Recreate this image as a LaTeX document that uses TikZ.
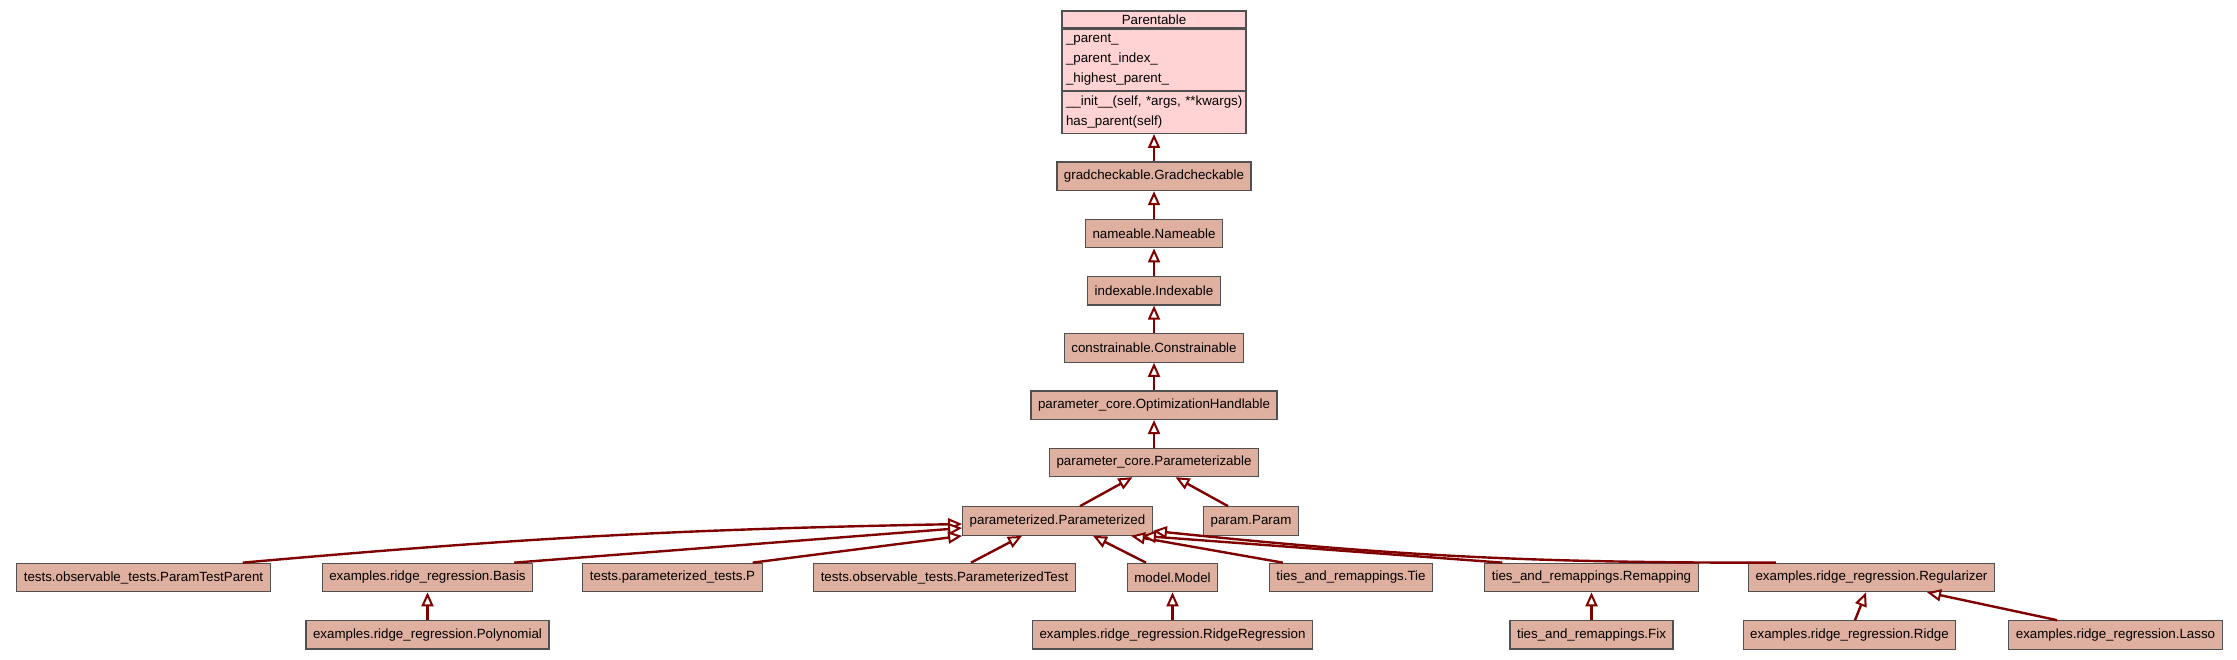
\documentclass[tikz,border=0pt]{standalone}
\usepackage{fontspec}
\setmainfont{Liberation Sans}
\usetikzlibrary{positioning, arrows.meta}

\definecolor{clsfill}{HTML}{DFB0A0}
\definecolor{rootfill}{HTML}{FFD3D3}
\definecolor{clsline}{HTML}{505050}
\definecolor{edgered}{HTML}{800000}

\tikzset{
  x=1pt, y=-1pt,
  node distance=27.5pt,
  cls/.style={draw=clsline, line width=1.2pt, fill=clsfill, minimum height=28.5pt,
    inner xsep=7pt, inner ysep=0pt, font=\fontsize{13.33}{16}\selectfont},
  umltitle/.style={draw=clsline, line width=1.2pt, fill=rootfill, minimum width=184pt,
    minimum height=17pt, inner sep=0pt, font=\fontsize{13.33}{16}\selectfont},
  umlpart/.style={draw=clsline, line width=1.2pt, fill=rootfill, text width=176pt,
    inner xsep=4pt, inner ysep=0pt, align=left, font=\fontsize{13.33}{20}\selectfont},
  inh/.style={draw=edgered, line width=2.4pt,
    -{Triangle[open, fill=white, length=14pt, width=12pt, line width=2pt]}},
}

\begin{document}
\begin{tikzpicture}
\useasboundingbox (0,0) rectangle (2237,660);
% root class
\node[umltitle] (pa) at (1154,19.5) {Parentable};
\node[umlpart, minimum height=61pt, below=0pt of pa] (paat)
  {\_parent\_\\\_parent\_index\_\\\_highest\_parent\_};
\node[umlpart, minimum height=42pt, below=0pt of paat] (pame)
  {\mbox{\_\_init\_\_(self, *args, **kwargs)}\\has\_parent(self)};
\draw[clsline, line width=2pt] (pa.south west) -- (pa.south east);
% chain
\node[cls, below=of pame] (gc) {gradcheckable.Gradcheckable};
\node[cls, below=of gc] (nm) {nameable.Nameable};
\node[cls, below=of nm] (ix) {indexable.Indexable};
\node[cls, below=of ix] (co) {constrainable.Constrainable};
\node[cls, below=of co] (oh) {parameter\_core.OptimizationHandlable};
\node[cls, below=of oh] (pz) {parameter\_core.Parameterizable};
\node[cls] (pd) at (1057.5,521) {parameterized.Parameterized};
\node[cls] (pp) at (1251,521) {param.Param};
% subclasses
\node[cls] (ptp) at (143.5,577.5) {tests.observable\_tests.ParamTestParent};
\node[cls] (ba) at (427.5,577.5) {examples.ridge\_regression.Basis};
\node[cls] (tp) at (672.5,577.5) {tests.parameterized\_tests.P};
\node[cls] (pt) at (944.5,577.5) {tests.observable\_tests.ParameterizedTest};
\node[cls] (mo) at (1172.5,577.5) {model.Model};
\node[cls] (ti) at (1351,577.5) {ties\_and\_remappings.Tie};
\node[cls] (rm) at (1591.5,577.5) {ties\_and\_remappings.Remapping};
\node[cls] (rg) at (1871.5,577.5) {examples.ridge\_regression.Regularizer};
\node[cls, below=of ba] (po) {examples.ridge\_regression.Polynomial};
\node[cls, below=of mo] (rr) {examples.ridge\_regression.RidgeRegression};
\node[cls, below=of rm] (fx) {ties\_and\_remappings.Fix};
\node[cls] (ri) at (1849.5,635) {examples.ridge\_regression.Ridge};
\node[cls] (la) at (2115.5,635) {examples.ridge\_regression.Lasso};
% inheritance
\draw[inh] (gc) -- (pame);
\draw[inh] (nm) -- (gc);
\draw[inh] (ix) -- (nm);
\draw[inh] (co) -- (ix);
\draw[inh] (oh) -- (co);
\draw[inh] (pz) -- (oh);
\draw[inh] ([xshift=22.5pt]pd.north) -- ([xshift=-21.5pt]pz.south);
\draw[inh] ([xshift=-23pt]pp.north) -- ([xshift=21.5pt]pz.south);
\draw[inh] ([xshift=-28pt]ptp.north east) to[bend left=2] ([yshift=-3pt]pd.west);
\draw[inh] ([xshift=-19pt]ba.north east) -- ([yshift=-7pt]pd.west);
\draw[inh] ([xshift=-10pt]tp.north east) -- (pd.south west);
\draw[inh] ([xshift=26.5pt]pt.north) -- ([xshift=-35.5pt]pd.south);
\draw[inh] ([xshift=-26.5pt]mo.north) -- ([xshift=35.5pt]pd.south);
\draw[inh] ([xshift=14pt]ti.north west) -- ([xshift=-22pt]pd.south east);
\draw[inh] ([xshift=18pt]rm.north west) -- ([xshift=-11pt]pd.south east);
\draw[inh] ([xshift=28pt]rg.north west) to[bend left=3] ([yshift=5pt]pd.south east);
\draw[inh] (po) -- (ba);
\draw[inh] (rr) -- (mo);
\draw[inh] (fx) -- (rm);
\draw[inh] ([xshift=5.5pt]ri.north) -- ([xshift=-5.5pt]rg.south);
\draw[inh] ([xshift=-58.5pt]la.north) -- ([xshift=55.5pt]rg.south);
\end{tikzpicture}
\end{document}
